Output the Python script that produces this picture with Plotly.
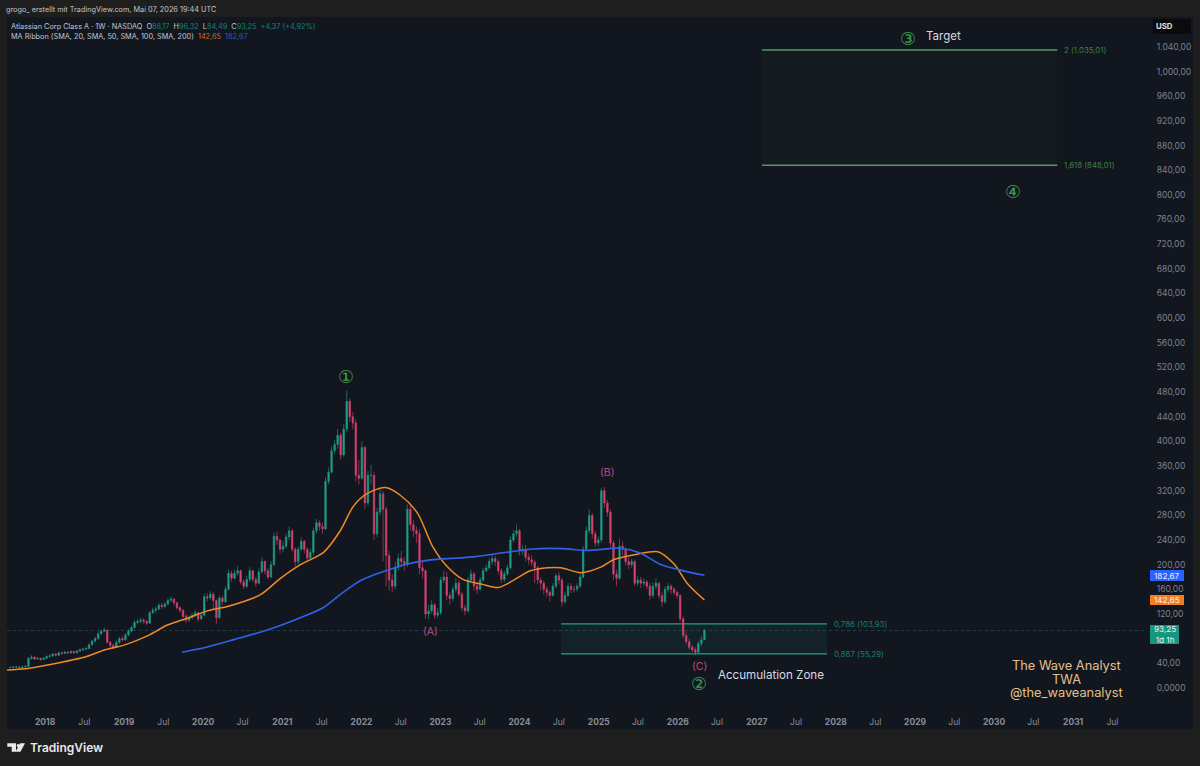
# %%
import pandas as pd
import plotly.graph_objects as go

# biweekly candles (opens follow the previous close)
closes = [
    33,34,34,33,34,35,48,50,47,48,
    46,48,51,52,55,53,57,56,58,57,
    59,57,60,62,63,64,70,76,80,88,
    92,94,74,69,66,74,80,78,86,92,
    98,106,108,110,108,105,122,126,128,134,
    132,136,142,144,138,130,126,116,110,114,
    118,122,112,118,148,146,152,142,114,146,
    140,160,186,178,186,190,172,165,176,190,
    176,170,188,205,190,180,200,246,240,225,
    230,245,255,225,205,225,238,225,211,220,
    255,268,262,258,335,350,385,395,410,378,
    420,465,440,430,345,340,390,300,345,345,
    250,285,315,290,215,175,165,195,210,205,
    200,290,265,255,250,195,190,120,125,135,
    118,122,175,180,150,145,160,170,152,130,
    125,175,185,165,160,175,190,195,205,210,
    205,190,176,185,195,240,250,255,222,225,
    212,208,204,195,175,170,160,155,150,165,
    182,175,140,150,165,160,160,165,180,225,
    255,280,250,235,240,320,300,285,235,185,
    178,230,225,205,200,205,170,175,170,172,
    165,150,165,170,150,140,160,165,160,155,
    150,112,85,75,66,62,58,72,78,93.25,
]
highs = [
    35,36,36,35,36,37,50,53,51,50,
    49,50,53,55,57,57,59,59,60,60,
    61,61,62,64,65,67,73,78,83,91,
    95,98,95,76,72,77,83,84,89,96,
    101,110,112,114,113,110,125,130,132,138,
    138,140,146,149,146,140,133,128,120,118,
    122,127,124,122,152,154,157,155,144,150,
    150,165,192,190,192,198,192,176,182,196,
    192,180,194,212,207,194,206,252,254,242,
    238,250,262,258,228,230,244,240,228,226,
    260,274,272,268,342,358,392,402,420,414,
    428,482,470,448,436,370,400,392,352,362,
    350,292,325,320,294,222,185,205,218,222,
    212,298,296,272,262,258,205,192,135,142,
    138,130,180,190,188,155,165,178,175,156,
    135,180,192,188,172,180,195,200,210,216,
    214,208,194,190,200,246,256,265,258,232,
    232,218,215,208,198,180,174,165,158,170,
    186,188,178,156,170,170,166,170,185,230,
    262,290,284,255,246,325,326,305,290,240,
    192,242,238,228,212,210,208,182,180,178,
    175,170,172,178,172,155,165,170,168,164,
    158,152,116,90,80,70,66,76,84,96.32,
]
lows = [
    32,32,33,32,32,33,35,46,45,46,
    44,45,47,49,50,51,52,54,55,55,
    55,55,56,58,60,61,63,69,74,78,
    86,90,72,66,63,65,72,75,76,84,
    90,96,103,105,104,102,104,120,122,126,
    128,130,134,140,134,127,122,113,105,107,
    112,115,108,110,116,140,143,128,104,112,
    134,138,158,172,176,182,168,160,162,172,
    172,164,168,186,184,176,178,198,232,218,
    220,226,240,220,196,200,222,218,205,206,
    215,250,255,250,256,330,348,380,388,370,
    375,415,432,420,335,330,338,290,296,330,
    240,245,280,205,165,158,155,160,190,195,
    190,196,255,245,235,185,178,112,112,120,
    112,114,118,170,142,135,140,155,148,125,
    118,122,170,158,152,158,172,188,192,200,
    198,184,170,172,182,192,236,245,215,215,
    205,200,198,170,168,158,152,148,140,148,
    162,168,132,136,148,154,155,156,162,178,
    222,250,242,228,230,236,292,278,228,175,
    165,175,215,198,192,195,165,165,162,165,
    160,143,146,160,145,132,136,155,152,150,
    145,108,80,70,62,58,53,56,68,84.49,
]
candle_dates = pd.date_range(end="2026-05-04", periods=len(closes), freq="14D")
opens = [33] + closes[:-1]

orange_dates = [
    "2017-07-09","2017-10-01","2018-01-25","2018-07-12","2018-10-05","2018-12-28",
    "2019-04-16","2019-07-20","2019-10-20","2020-01-20","2020-04-22","2020-09-20",
    "2020-12-20","2021-03-25","2021-07-10","2021-09-25","2021-11-25","2022-01-25",
    "2022-04-20","2022-06-28","2022-09-16","2022-11-28","2023-02-01","2023-04-15",
    "2023-07-15","2023-09-25","2023-12-01","2024-02-20","2024-05-10","2024-07-10",
    "2024-10-10","2025-01-10","2025-03-10","2025-06-28","2025-10-01","2025-12-15",
    "2026-02-15","2026-05-04",
]
orange_values = [
    29,31,38,51,62,69,84,102,113,125,132,151,177,200,220,255,295,315,325,313,
    284,228,197,176,168,163,174,190,195,195,187,196,208,217,221,201,169,142.65,
]
blue_dates = [
    "2019-09-25","2020-01-20","2020-05-18","2020-10-23","2021-03-25","2021-07-08",
    "2021-10-08","2021-12-27","2022-05-01","2022-08-01","2022-11-01","2023-04-01",
    "2023-06-01","2023-11-03","2024-03-03","2024-07-18","2024-11-06","2025-04-08",
    "2025-07-09","2025-10-11","2026-01-10","2026-05-04",
]
blue_values = [
    58,66.5,78,94,114,130,155,174,191,201,207,211,212.6,220,225.5,226,223,226.7,
    219.5,200.7,191.5,182.67,
]

y_tick_vals = [0, 40] + list(range(120, 1041, 40))
y_tick_text = ["0,0000", "40,00"] + [
    f"{v:,d},00".replace(",00", "#").replace(",", ".").replace("#", ",00")
    for v in range(120, 1041, 40)
]
x_tick_vals = []
x_tick_text = []
for year in range(2018, 2032):
    x_tick_vals += [f"{year}-01-01", f"{year}-07-01"]
    x_tick_text += [f"<b>{year}</b>", "Jul"]

# pixel frame of the plot area
L, R, T, B = 7, 1147, 17, 710
def px(x):
    return (x - L) / (R - L)
def py(y):
    return (B - y) / (B - T)

fig = go.Figure()
fig.add_trace(go.Candlestick(
    x=candle_dates, open=opens, high=highs, low=lows, close=closes,
    increasing=dict(line=dict(color="#1f9e89", width=0.6), fillcolor="#1f9e89"),
    decreasing=dict(line=dict(color="#d9436f", width=0.6), fillcolor="#d9436f"),
    whiskerwidth=0,
    showlegend=False,
))
fig.add_trace(go.Scatter(
    x=orange_dates, y=orange_values, mode="lines",
    line=dict(color="#f08a24", width=1.5, shape="spline", smoothing=0.8),
    showlegend=False,
))
fig.add_trace(go.Scatter(
    x=blue_dates, y=blue_values, mode="lines",
    line=dict(color="#2f62e8", width=1.6, shape="spline", smoothing=0.8),
    showlegend=False,
))

# chart panel behind everything
fig.add_shape(type="rect", xref="paper", yref="paper", layer="below",
    x0=px(7), x1=px(1193), y0=py(729), y1=py(17),
    fillcolor="#12161f", line_width=0)

# fib boxes
def fib_box(x0, x1, top, bottom, color, fill):
    fig.add_shape(type="rect", x0=x0, x1=x1, y0=bottom, y1=top, layer="below",
        fillcolor=fill, line_width=0)
    for level in (top, bottom):
        fig.add_shape(type="line", x0=x0, x1=x1, y0=level, y1=level, layer="below",
            line=dict(color=color, width=1.4))

fib_box("2024-07-11", "2027-11-21", 103.93, 55.29, "#26a08c", "rgba(38,160,140,0.09)")
fib_box("2027-01-25", "2030-10-20", 1035.01, 848.01, "#4f9a55", "rgba(79,154,85,0.035)")

# last price line
fig.add_shape(type="line", xref="paper", x0=0, x1=1, y0=93.25, y1=93.25, layer="below",
    line=dict(color="#17695c", width=0.6, dash="dot"))

def note(x, y, text, color, size, family="Inter", anchor="center"):
    fig.add_annotation(x=x, y=y, text=text, showarrow=False, xanchor=anchor, yanchor="middle",
        font=dict(color=color, size=size, family=family))

note("2027-12-15", 103.93, "0,786 (103,93)", "#1c7d6e", 7.8, anchor="left")
note("2027-12-15", 55.29, "0,887 (55,29)", "#1c7d6e", 7.8, anchor="left")
note("2030-11-10", 1035.01, "2 (1.035,01)", "#3f8046", 7.8, anchor="left")
note("2030-11-10", 848.01, "1,618 (848,01)", "#3f8046", 7.8, anchor="left")

GREEN = "#3f9e50"
PINK = "#bd4c80"
note("2021-10-23", 506, "①", GREEN, 18, "DejaVu Sans")
note("2026-04-10", 8, "②", GREEN, 18, "DejaVu Sans")
note("2028-11-30", 1053, "③", GREEN, 18, "DejaVu Sans")
note("2030-03-28", 805, "④", GREEN, 18, "DejaVu Sans")
note("2022-11-14", 91, "(A)", PINK, 10.5)
note("2025-02-10", 350, "(B)", PINK, 10.5)
note("2026-04-10", 34, "(C)", PINK, 10.5)
note("2029-05-10", 1058, "Target", "#d8dae0", 11.5)
note("2027-03-08", 21, "Accumulation Zone", "#d8dae0", 11.6)
note("2030-12-02", 36, "The Wave Analyst", "#e3c08a", 12.8)
note("2030-12-02", 13, "TWA", "#e3c08a", 12.8)
note("2030-12-02", -8, "@the_waveanalyst", "#e3c08a", 12.8)

# price tags on the axis
def tag(x0, x1, y0, y1, color, text):
    fig.add_shape(type="rect", xref="paper", yref="paper",
        x0=px(x0), x1=px(x1), y0=py(y1), y1=py(y0), fillcolor=color, line_width=0)
    fig.add_annotation(xref="paper", yref="paper", x=px((x0 + x1) / 2), y=py((y0 + y1) / 2),
        text=text, showarrow=False, xanchor="center", yanchor="middle",
        font=dict(color="#eef2f5", size=8.2, family="Inter"))

tag(1150, 1184, 570, 581, "#2962ff", "182,67")
tag(1150, 1184, 595, 605, "#f57c1f", "142,65")
tag(1150, 1179, 625, 644, "#14967f", "93,25<br>1d 1h")
tag(1153, 1191, 19, 34, "#0b0b0e", "")
fig.add_annotation(xref="paper", yref="paper", x=px(1164), y=py(26.5), text="<b>USD</b>",
    showarrow=False, xanchor="center", yanchor="middle",
    font=dict(color="#dfe1e6", size=7.8, family="Inter"))

def paper_text(x, y, text, size, color="#c4c6cc", anchor="left", weight=None):
    fig.add_annotation(xref="paper", yref="paper", x=px(x), y=py(y), text=text,
        showarrow=False, xanchor=anchor, yanchor="middle", align="left",
        font=dict(color=color, size=size, family="Inter", weight=weight))

paper_text(4, 9.5, "grogo_ erstellt mit TradingView.com, Mai 07, 2026 19:44 UTC", 7.3)
TEAL = "<span style='color:#14846f'>"
paper_text(9, 26,
    f"Atlassian Corp Class A · 1W · NASDAQ  O{TEAL}88,17</span>  H{TEAL}96,32</span>"
    f"  L{TEAL}84,49</span>  C{TEAL}93,25  +4,37 (+4,92%)</span>", 7.3)
paper_text(9, 36,
    "MA Ribbon (SMA, 20, SMA, 50, SMA, 100, SMA, 200)  "
    "<span style='color:#c9701f'>142,65</span>  <span style='color:#2a56c6'>182,67</span>", 7.3)

# TradingView logo, bottom left
paper_text(28, 747.5, "TradingView", 12, "#e8e8e8", weight=600)
logo = [
    [(7.3, 743.3), (16, 743.3), (16, 751.7), (11.7, 751.7), (11.7, 746.7), (7.3, 746.7)],
    [(20, 743.3), (25, 743.3), (20.5, 751.7), (15.5, 751.7)],
]
for poly in logo:
    path = "M " + " L ".join(f"{px(a):.5f},{py(b):.5f}" for a, b in poly) + " Z"
    fig.add_shape(type="path", xref="paper", yref="paper", path=path,
        fillcolor="#e8e8e8", line_width=0)
fig.add_shape(type="circle", xref="paper", yref="paper",
    x0=px(16.6), x1=px(19.6), y0=py(747), y1=py(744), fillcolor="#e8e8e8", line_width=0)

fig.update_xaxes(
    type="date", range=["2017-07-09", "2031-12-08"],
    rangeslider_visible=False, showgrid=False, zeroline=False, showline=False,
    tickmode="array", tickvals=x_tick_vals, ticktext=x_tick_text,
    ticks="outside", ticklen=4, tickcolor="rgba(0,0,0,0)",
    tickfont=dict(color="#8b8e96", size=8.5, family="Inter"),
)
fig.update_yaxes(
    side="right", range=[-35.8, 1088.5], showgrid=False, zeroline=False, showline=False,
    tickmode="array", tickvals=y_tick_vals, ticktext=y_tick_text,
    ticks="outside", ticklen=7, tickcolor="rgba(0,0,0,0)",
    tickfont=dict(color="#7f828b", size=8.5, family="Inter"),
)
fig.update_layout(
    width=1200, height=766,
    margin=dict(l=L, r=1200 - R, t=T, b=766 - B, autoexpand=False),
    paper_bgcolor="#1e1e1e", plot_bgcolor="rgba(0,0,0,0)",
    showlegend=False,
)

fig.write_html("out.html", config=dict(displayModeBar=False),
    post_script="document.body.style.margin='0';document.body.style.background='#1e1e1e';")
